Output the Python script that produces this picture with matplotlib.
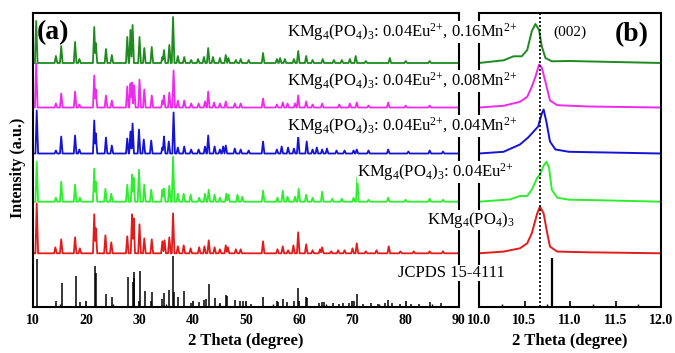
import numpy as np
import matplotlib
matplotlib.use("Agg")
import matplotlib.pyplot as plt

plt.rcParams['font.family'] = ['Liberation Serif', 'DejaVu Serif']
plt.rcParams['mathtext.fontset'] = 'custom'
plt.rcParams['mathtext.rm'] = 'Liberation Serif'
plt.rcParams['mathtext.it'] = 'Liberation Serif:italic'
plt.rcParams['mathtext.bf'] = 'Liberation Serif:bold'

# ---------------- data ----------------
# Panel (a): peak positions (2theta) and heights (a.u.) for each pattern
jcpds_pos = [10.8, 14.3, 15.4, 18.0, 18.9, 21.6, 21.8, 23.7, 24.8, 27.8, 28.7, 28.9, 29.0, 30.1,
             31.0, 32.1, 32.3, 34.3, 34.6, 35.6, 36.3, 36.5, 37.3, 38.4, 39.7, 41.1, 42.1, 42.4,
             43.1, 44.1, 45.1, 46.2, 46.5, 47.9, 48.9, 49.5, 50.9, 53.2, 55.8, 56.1, 56.9, 57.7,
             59.0, 59.8, 61.3, 61.5, 63.8, 64.3, 64.6, 66.4, 67.5, 68.3, 69.3, 70.2, 70.9, 72.0,
             73.5, 74.8, 76.1, 76.7, 77.5, 79.0, 81.0, 82.5, 84.6, 86.7]
jcpds_h = [46.7, 5, 22.7, 30, 4, 40, 33, 12, 9, 29, 24, 28, 34, 35,
           15, 5, 14, 7, 13, 16, 50, 14, 9, 15, 3, 4, 6, 7,
           22, 8, 3, 11, 10, 6, 5, 5, 2, 9, 5, 4, 7, 4,
           5, 18, 9, 8, 3, 4, 4, 3, 2, 3, 3, 5, 12, 2,
           3, 2, 3, 6, 3, 2, 2, 2, 4, 3]

red_pos = [10.7, 14.2, 15.3, 17.9, 18.8, 21.5, 21.8, 23.6, 24.7, 27.7, 28.6, 28.9, 30.0, 30.9,
           32.3, 34.3, 34.7, 35.6, 36.3, 37.2, 38.3, 39.6, 41.2, 42.2, 43.0, 44.1, 45.1, 46.2,
           46.6, 48.1, 49.0, 53.2, 55.9, 56.9, 57.9, 58.9, 59.8, 61.3, 62.5, 63.9, 64.3, 66.0,
           67.3, 68.5, 70.0, 70.8, 72.5, 74.5, 76.8, 79.0, 81.5, 84.5, 87.0]
red_h = [50, 6, 14, 16, 5, 39, 25, 18, 11, 17, 39, 35, 29, 15,
         14, 12, 13, 16, 40, 7, 8, 5, 6, 7, 13, 6, 4, 8,
         6, 4, 4, 12, 4, 7, 3, 8, 21, 9, 3, 4, 6, 2,
         3, 3, 5, 10, 2, 3, 7, 2, 2, 2, 2]

lgreen_pos = [10.7, 14.3, 15.3, 17.9, 18.8, 21.5, 21.8, 23.6, 24.7, 27.7, 28.6, 28.9, 29.9, 30.9,
              32.2, 34.3, 34.6, 35.6, 36.3, 37.2, 38.3, 39.6, 41.2, 42.3, 43.0, 44.1, 45.1, 46.3,
              46.7, 48.4, 49.3, 53.2, 55.9, 56.9, 57.8, 59.2, 59.9, 61.3, 62.5, 64.3, 66.2, 68.0,
              70.2, 70.9, 73.0, 76.7, 80.0, 84.5, 87.0]
lgreen_h = [40, 4, 20, 17, 4, 33, 20, 13, 8, 17, 27, 24, 32, 17,
            12, 12, 13, 16, 45, 8, 8, 7, 4, 8, 12, 7, 4, 8,
            7, 7, 5, 11, 4, 11, 5, 5, 13, 7, 4, 10, 3, 3,
            4, 24, 2, 4, 2, 3, 2]

blue_pos = [10.7, 14.3, 15.3, 17.9, 18.7, 21.5, 21.8, 23.7, 24.8, 27.7, 28.3, 28.7, 29.9, 30.8,
            32.2, 34.3, 34.6, 35.5, 36.4, 37.2, 38.4, 39.7, 41.1, 42.3, 42.9, 44.1, 45.1, 45.7,
            46.2, 47.9, 49.0, 50.5, 53.2, 55.8, 56.7, 57.9, 59.0, 59.8, 61.4, 62.5, 63.3, 64.3,
            65.2, 67.0, 68.5, 70.2, 70.8, 73.0, 76.7, 80.5, 84.5, 87.0]
blue_h = [43, 3, 17, 18, 4, 33, 20, 16, 8, 15, 22, 30, 24, 14,
          13, 6, 17, 12, 41, 6, 7, 4, 4, 7, 18, 7, 4, 7,
          8, 5, 4, 3, 12, 4, 7, 6, 5, 17, 12, 4, 6, 4,
          5, 3, 3, 3, 4, 3, 4, 2, 3, 2]

magenta_pos = [10.6, 14.3, 15.3, 17.9, 18.7, 21.5, 21.8, 23.7, 24.8, 27.7, 28.3, 28.6, 29.0, 30.0,
               30.9, 32.3, 34.3, 34.6, 35.6, 36.4, 37.2, 38.4, 39.7, 41.1, 42.3, 42.9, 44.0, 45.1,
               46.2, 47.9, 49.0, 53.2, 55.8, 56.9, 57.8, 59.2, 59.8, 61.3, 62.5, 64.3, 67.5, 69.5,
               70.8, 73.0, 76.7, 80.0, 84.5]
magenta_h = [44, 4, 14, 16, 3, 32, 18, 12, 7, 21, 24, 25, 22, 28,
             18, 12, 7, 12, 15, 37, 7, 7, 4, 4, 6, 16, 5, 4,
             6, 4, 4, 9, 3, 5, 4, 4, 12, 6, 3, 4, 3, 4,
             5, 2, 5, 2, 2]

green_pos = [10.6, 14.3, 15.3, 17.9, 18.7, 21.5, 21.8, 23.7, 24.8, 27.7, 28.3, 28.7, 30.0, 30.9,
             32.3, 34.3, 34.6, 35.6, 36.3, 37.2, 38.4, 39.7, 41.0, 42.1, 42.9, 43.8, 45.1, 46.2,
             46.7, 48.1, 49.0, 50.5, 53.2, 55.8, 56.4, 57.3, 59.0, 59.8, 61.3, 62.5, 64.4, 66.5,
             68.0, 69.5, 70.6, 72.5, 77.0, 80.0, 84.5]
green_h = [42, 7, 17, 21, 4, 36, 20, 14, 8, 26, 33, 38, 26, 15,
           16, 6, 13, 18, 46, 7, 6, 3, 4, 6, 15, 6, 5, 8,
           5, 3, 4, 3, 10, 4, 5, 4, 4, 12, 7, 3, 4, 3,
           3, 4, 7, 2, 5, 2, 2]

# Panel (b): (002) reflection profiles
red_b_x = [10.0, 10.27, 10.45, 10.53, 10.58, 10.64, 10.67, 10.71, 10.75, 10.78, 10.86, 11.2, 12.0]
red_b_y = [0, 1.7, 5, 10, 20, 40, 46.7, 40, 20, 6.7, 1.7, 1, 0]
lgreen_b_x = [10.0, 10.34, 10.45, 10.53, 10.58, 10.64, 10.67, 10.71, 10.74, 10.77, 10.80, 10.86, 10.99, 11.3, 12.0]
lgreen_b_y = [0, 2.3, 5.7, 5.7, 12, 24, 27, 36, 40, 34, 12, 4, 2, 1.5, 0]
blue_b_x = [10.0, 10.27, 10.45, 10.54, 10.60, 10.65, 10.69, 10.71, 10.74, 10.78, 10.84, 10.99, 12.0]
blue_b_y = [0, 1.7, 9, 16, 22, 27, 40, 44, 32, 12, 4, 1.7, 0]
magenta_b_x = [10.0, 10.27, 10.45, 10.53, 10.58, 10.62, 10.66, 10.69, 10.73, 10.78, 10.86, 11.2, 12.0]
magenta_b_y = [0, 1.7, 5.7, 10.7, 20.7, 30.7, 43, 40, 25.7, 7, 2.3, 1, 0]
green_b_x = [10.0, 10.27, 10.38, 10.47, 10.53, 10.58, 10.62, 10.66, 10.69, 10.73, 10.80, 10.99, 12.0]
green_b_y = [0, 2.7, 6.7, 6.7, 13, 31.7, 39, 33, 16.7, 5, 1.7, 2, 0]
jcpds_b_pos = [10.8]
jcpds_b_h = [49]
ref_line_b = 10.67

labels = ["KMg$_4$(PO$_4$)$_3$: 0.04Eu$^{2{+}}$, 0.16Mn$^{2{+}}$",
          "KMg$_4$(PO$_4$)$_3$: 0.04Eu$^{2{+}}$, 0.08Mn$^{2{+}}$",
          "KMg$_4$(PO$_4$)$_3$: 0.04Eu$^{2{+}}$, 0.04Mn$^{2{+}}$",
          "KMg$_4$(PO$_4$)$_3$: 0.04Eu$^{2{+}}$",
          "KMg$_4$(PO$_4$)$_3$",
          "JCPDS 15-4111"]

# ---------------- styling ----------------
W, H = 675, 353
fig = plt.figure(figsize=(W / 100, H / 100), dpi=100)

def px(x, y):
    return x / W, 1 - y / H

axa = fig.add_axes([33 / W, 1 - 307 / H, (459 - 33) / W, (307 - 13) / H])
axb = fig.add_axes([479 / W, 1 - 307 / H, (661 - 479) / W, (307 - 13) / H])
axb.set_facecolor('none')

offsets = {'green': 244, 'magenta': 199.5, 'blue': 153.5, 'lgreen': 105.3, 'red': 53.7}
colors = {'green': '#1f8a1f', 'magenta': '#ee2aee', 'blue': '#1414d2', 'lgreen': '#2fee2f', 'red': '#e21c1c'}

grid = np.arange(10, 90.001, 0.02)
halfw = 0.24

def profile(pos, h):
    y = np.zeros_like(grid)
    for p, hh in zip(pos, h):
        y = np.maximum(y, hh * np.clip(1 - np.abs(grid - p) / halfw, 0, None))
    return y

series_a = [('red', red_pos, red_h), ('lgreen', lgreen_pos, lgreen_h), ('blue', blue_pos, blue_h),
            ('magenta', magenta_pos, magenta_h), ('green', green_pos, green_h)]
for key, pos, h in series_a:
    axa.plot(grid, offsets[key] + profile(pos, h), color=colors[key], lw=1.3)
axa.vlines(jcpds_pos, 1.0, np.array(jcpds_h) + 1.0, color='black', lw=1.1)

series_b = [('red', red_b_x, red_b_y), ('lgreen', lgreen_b_x, lgreen_b_y), ('blue', blue_b_x, blue_b_y),
            ('magenta', magenta_b_x, magenta_b_y), ('green', green_b_x, green_b_y)]
for key, xs, ys in series_b:
    axb.plot(xs, offsets[key] + np.array(ys), color=colors[key], lw=1.4)
axb.vlines(jcpds_b_pos, 0, jcpds_b_h, color='black', lw=1.6)
axb.axvline(ref_line_b, color='black', lw=1.2, ls=(0, (1.2, 1.2)))

for ax, (x0, x1) in ((axa, (10, 90)), (axb, (10.0, 12.0))):
    ax.set_xlim(x0, x1)
    ax.set_ylim(0, 294)
    ax.set_yticks([])
    for s in ax.spines.values():
        s.set_linewidth(1.5)
    ax.tick_params(axis='x', direction='in', length=4, width=1.2, labelsize=10, pad=5)
    ax.tick_params(axis='x', which='minor', direction='in', length=2.5, width=1.0)

axa.set_xticks(np.arange(10, 91, 10))
axa.set_xticks(np.arange(15, 90, 10), minor=True)
axb.set_xticks([10.0, 10.5, 11.0, 11.5, 12.0])
axb.set_xticks([10.25, 10.75, 11.25, 11.75], minor=True)
axb.set_xticklabels(['10.0', '10.5', '11.0', '11.5', '12.0'])
for ax in (axa, axb):
    for lab in ax.get_xticklabels():
        lab.set_fontweight('bold')

label_pos = [(287, 32), (287, 81), (287, 126), (357, 172), (427, 220), (398, 273)]
for txt, (x, y) in zip(labels, label_pos):
    fig.text(*px(x, y), txt, ha='left', va='center', fontsize=12, zorder=10,
             bbox=dict(facecolor='white', edgecolor='none', pad=0.3))

fig.text(*px(553, 32), "(002)", ha='left', va='center', fontsize=11)
fig.text(*px(37, 33), "(a)", ha='left', va='center', fontsize=20, fontweight='bold')
fig.text(*px(615, 35), "(b)", ha='left', va='center', fontsize=20, fontweight='bold')
fig.text(*px(246, 341), "2 Theta (degree)", ha='center', va='center', fontsize=12, fontweight='bold')
fig.text(*px(570, 341), "2 Theta (degree)", ha='center', va='center', fontsize=12, fontweight='bold')
fig.text(*px(18, 168), "Intensity (a.u.)", ha='center', va='center', rotation=90,
         fontsize=11.5, fontweight='bold')

fig.savefig("out.png", dpi=100)
